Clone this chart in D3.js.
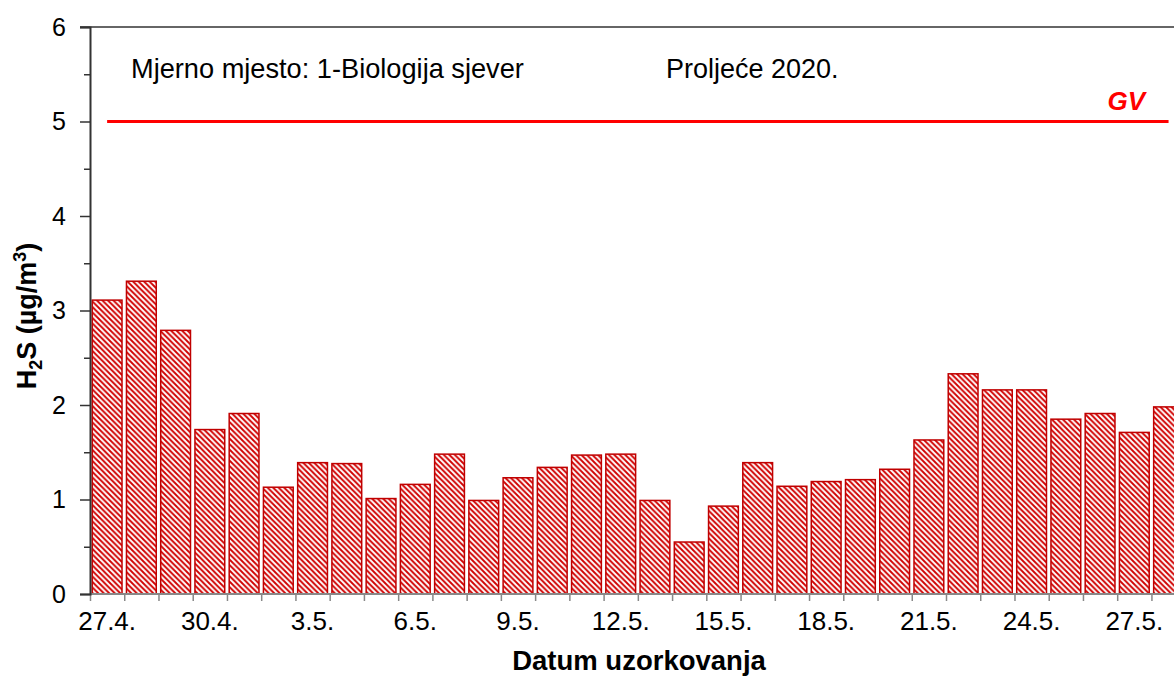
<!DOCTYPE html>
<meta charset="utf-8">
<style>
body { margin: 0; background: #fff; }
svg text { font-family: "Liberation Sans", Arial, sans-serif; }
</style>
<body>
<script src="https://d3js.org/d3.v7.min.js"></script>
<script>

// sampling dates (categories)
var dates = ["27.4.", "28.4.", "29.4.", "30.4.", "1.5.", "2.5.", "3.5.", "4.5.",
  "5.5.", "6.5.", "7.5.", "8.5.", "9.5.", "10.5.", "11.5.", "12.5.",
  "13.5.", "14.5.", "15.5.", "16.5.", "17.5.", "18.5.", "19.5.", "20.5.",
  "21.5.", "22.5.", "23.5.", "24.5.", "25.5.", "26.5.", "27.5.", "28.5."];

// H2S concentrations (ug/m3)
var h2s = [3.11, 3.31, 2.79, 1.74, 1.91, 1.13, 1.39, 1.38,
  1.01, 1.16, 1.48, 0.99, 1.23, 1.34, 1.47, 1.48,
  0.99, 0.55, 0.93, 1.39, 1.14, 1.19, 1.21, 1.32,
  1.63, 2.33, 2.16, 2.16, 1.85, 1.91, 1.71, 1.98];

// limit value (GV)
var gvValue = 5;

// labelled x ticks and y ticks
var xTickLabels = ["27.4.", "30.4.", "3.5.", "6.5.", "9.5.", "12.5.", "15.5.", "18.5.", "21.5.", "24.5.", "27.5."];
var yTicks = [0, 1, 2, 3, 4, 5, 6];
var yMinorTicks = [0.5, 1.5, 2.5, 3.5, 4.5, 5.5];

var W = 1174, H = 677;
var plotL = 90, plotT = 27, plotB = 594;
var step = 34.24;
var plotR = plotL + dates.length * step;   // plot runs past the window edge

var svg = d3.select("body").append("svg")
    .attr("width", W)
    .attr("height", H);

// hatch pattern for the bars
var defs = svg.append("defs");
var pat = defs.append("pattern")
    .attr("id", "hatch")
    .attr("patternUnits", "userSpaceOnUse")
    .attr("width", 5.5)
    .attr("height", 5.5);
pat.append("rect").attr("width", 5.5).attr("height", 5.5).attr("fill", "#fff");
pat.append("path")
    .attr("d", "M0,0L5.5,5.5M-1,4.5L1,6.5M4.5,-1L6.5,1")
    .attr("stroke", "#d00000")
    .attr("stroke-width", 1.9);

var x = d3.scaleBand()
    .domain(dates)
    .range([plotL, plotR])
    .paddingInner(0.13)
    .paddingOuter(0.065);

// boundary positions for the x tick marks
var xEdge = d3.scaleLinear().domain([0, dates.length]).range([plotL, plotR]);

var y = d3.scaleLinear().domain([0, 6]).range([plotB, plotT]);

// top frame line
svg.append("line")
    .attr("x1", plotL - 10).attr("x2", W)
    .attr("y1", y(6)).attr("y2", y(6))
    .attr("stroke", "#333").attr("stroke-width", 1.5);

// bars
svg.selectAll(".bar")
    .data(h2s)
  .enter().append("rect")
    .attr("class", "bar")
    .attr("x", function(d, i) { return x(dates[i]); })
    .attr("width", x.bandwidth())
    .attr("y", function(d) { return y(d); })
    .attr("height", function(d) { return y(0) - y(d); })
    .attr("fill", "url(#hatch)")
    .attr("stroke", "#c00000")
    .attr("stroke-width", 1.5);

// GV line
var gvLine = d3.line()
    .x(function(d) { return x(d) + x.bandwidth() / 2; })
    .y(function() { return y(gvValue); });
svg.append("path")
    .datum([dates[0], dates[dates.length - 1]])
    .attr("d", gvLine)
    .attr("stroke", "#ff0000")
    .attr("stroke-width", 3)
    .attr("fill", "none");

svg.append("text")
    .attr("x", 1145)
    .attr("y", 110)
    .attr("text-anchor", "end")
    .attr("fill", "#ff0000")
    .style("font-size", "26px")
    .style("font-weight", "bold")
    .style("font-style", "italic")
    .text("GV");

// x axis: line + tick marks at band edges
var xTicksG = svg.append("g")
    .attr("transform", "translate(0," + plotB + ")")
    .call(d3.axisBottom(xEdge).tickValues(d3.range(dates.length + 1)).tickSize(7).tickFormat(""));
xTicksG.select(".domain").remove();
xTicksG.selectAll("line").attr("stroke", "#888").attr("stroke-width", 1.5);

svg.append("line")
    .attr("x1", plotL).attr("x2", W)
    .attr("y1", plotB).attr("y2", plotB)
    .attr("stroke", "#888").attr("stroke-width", 2);

// x tick labels
var xAxis = svg.append("g")
    .attr("transform", "translate(0," + plotB + ")")
    .call(d3.axisBottom(x).tickValues(xTickLabels).tickSize(0).tickPadding(18));
xAxis.select(".domain").remove();
xAxis.selectAll("text")
    .attr("fill", "#000")
    .style("font-size", "26px")
    .style("font-family", "'Liberation Sans', Arial, sans-serif");

// y axis
var yAxis = svg.append("g")
    .attr("transform", "translate(" + plotL + ",0)")
    .call(d3.axisLeft(y).tickValues(yTicks).tickSize(10).tickPadding(14).tickFormat(d3.format("d")));
yAxis.select(".domain").attr("stroke", "#333").attr("stroke-width", 2);
yAxis.selectAll("line").attr("stroke", "#333").attr("stroke-width", 1.5);
yAxis.selectAll("text")
    .attr("fill", "#000")
    .style("font-size", "25px")
    .style("font-family", "'Liberation Sans', Arial, sans-serif");

var yMinor = svg.append("g")
    .attr("transform", "translate(" + plotL + ",0)")
    .call(d3.axisLeft(y).tickValues(yMinorTicks).tickSize(6).tickFormat(""));
yMinor.select(".domain").remove();
yMinor.selectAll("line").attr("stroke", "#333").attr("stroke-width", 1.5);

// annotations
svg.append("text")
    .attr("x", 131).attr("y", 78)
    .attr("fill", "#000")
    .style("font-size", "27.2px")
    .text("Mjerno mjesto: 1-Biologija sjever");

svg.append("text")
    .attr("x", 666).attr("y", 78)
    .attr("fill", "#000")
    .style("font-size", "27px")
    .text("Proljeće 2020.");

// axis titles
svg.append("text")
    .attr("x", 639)
    .attr("y", 670)
    .attr("text-anchor", "middle")
    .attr("fill", "#000")
    .style("font-size", "27.5px")
    .style("font-weight", "bold")
    .text("Datum uzorkovanja");

var yTitle = svg.append("text")
    .attr("transform", "translate(36," + 316 + ") rotate(-90)")
    .attr("text-anchor", "middle")
    .attr("fill", "#000")
    .style("font-size", "27px")
    .style("font-weight", "bold");
yTitle.append("tspan").text("H");
yTitle.append("tspan").attr("dy", 6).style("font-size", "18px").text("2");
yTitle.append("tspan").attr("dy", -6).text("S (µg/m");
yTitle.append("tspan").attr("dy", -10).style("font-size", "18px").text("3");
yTitle.append("tspan").attr("dy", 10).text(")");

</script>
</body>
